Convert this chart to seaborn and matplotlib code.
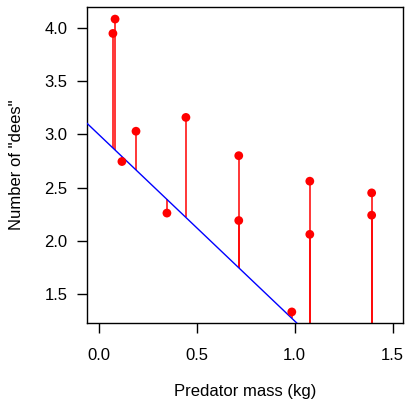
import numpy as np
import pandas as pd
import matplotlib
matplotlib.use("Agg")
import matplotlib.pyplot as plt
import seaborn as sns

# predator mass (kg) and number of "dees"
mass = [0.071, 0.082, 0.117, 0.189, 0.347, 0.444, 0.714, 0.714, 0.985, 1.077, 1.077, 1.393, 1.393]
dees = [3.95, 4.085, 2.745, 3.03, 2.26, 3.16, 2.80, 2.19, 1.33, 2.56, 2.06, 2.45, 2.24]

# fitted line
intercept = 2.997
slope = -1.753

data = pd.DataFrame({"mass": mass, "dees": dees})
data["fit"] = intercept + slope * data["mass"]

sns.set_style("white", {"text.color": "black", "axes.labelcolor": "black",
                        "xtick.color": "black", "ytick.color": "black"})
plt.rcParams["font.family"] = ["Liberation Sans", "DejaVu Sans"]

fig = plt.figure(figsize=(4.05, 4.05), dpi=100)
ax = fig.add_axes([0.215, 0.2025, 0.78, 0.78])

# residual segments
ax.vlines(data["mass"], data["dees"], data["fit"], color="red", lw=1.1, zorder=2)

xs = np.array([-0.1, 1.6])
ax.plot(xs, intercept + slope * xs, color="blue", lw=1, zorder=3)

sns.scatterplot(data=data, x="mass", y="dees", color="red", s=40,
                edgecolor="none", ax=ax, zorder=4)

ax.set_xlim(-0.061, 1.553)
ax.set_ylim(1.226, 4.198)
ax.set_xticks([0.0, 0.5, 1.0, 1.5])
ax.set_xticklabels(["0.0", "0.5", "1.0", "1.5"])
ax.set_yticks([1.5, 2.0, 2.5, 3.0, 3.5, 4.0])
ax.set_yticklabels(["1.5", "2.0", "2.5", "3.0", "3.5", "4.0"])
ax.tick_params(direction="out", length=7, width=1, color="black",
               labelsize=12, left=True, bottom=True)
ax.tick_params(axis="x", pad=11)
ax.tick_params(axis="y", pad=7)
for s in ax.spines.values():
    s.set_color("black")
    s.set_linewidth(1)
ax.set_xlabel("Predator mass (kg)", fontsize=12, labelpad=15)
ax.set_ylabel('Number of "dees"', fontsize=12, labelpad=15)

fig.savefig("out.png", dpi=100)
